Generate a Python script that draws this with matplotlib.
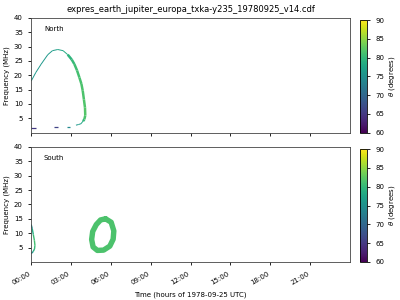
import matplotlib
matplotlib.use("Agg")
import matplotlib.pyplot as plt
import numpy as np
from matplotlib.collections import LineCollection
from matplotlib.colors import Normalize
from matplotlib.cm import ScalarMappable

title = "expres_earth_jupiter_europa_txka-y235_19780925_v14.cdf"

# North hemisphere tracks: time (hours), frequency (MHz), theta (deg)
north_arc_t = [0.0, 0.35, 0.75, 1.25, 1.6, 2.0, 2.4, 2.75, 3.05, 3.25, 3.45, 3.63, 3.78, 3.88, 3.97, 4.05, 4.07, 4.0, 3.9, 3.75, 3.55, 3.37]
north_arc_f = [18.0, 21.0, 23.9, 27.2, 28.6, 29.0, 28.6, 27.2, 25.5, 23.9, 21.7, 19.2, 17.0, 14.6, 11.5, 8.7, 6.0, 4.6, 4.0, 3.1, 2.8, 2.6]
north_arc_theta = [76, 76, 76, 76, 76.5, 77, 78, 79, 80, 80.5, 81, 81, 81.5, 81.5, 81.5, 82, 82, 81, 79, 77, 76, 76]

north_tail_t = [[2.68, 2.92], [1.68, 1.98], [0.0, 0.33]]
north_tail_f = [[2.1, 2.1], [1.85, 1.85], [1.5, 1.5]]
north_tail_theta = [74, 66, 65]

# South hemisphere tracks
south_arc_t = [0.0, 0.08, 0.16, 0.24, 0.28, 0.25, 0.15, 0.05, 0.0]
south_arc_f = [13.0, 11.5, 9.5, 7.5, 5.8, 4.5, 3.6, 3.1, 2.9]
south_arc_theta = [72, 77, 80, 81, 81, 80, 78, 74, 72]

south_ring_t = [5.6, 6.02, 6.22, 6.17, 5.92, 5.45, 4.98, 4.66, 4.55, 4.63, 4.9, 5.22, 5.6]
south_ring_f = [15.0, 13.8, 10.8, 7.9, 5.5, 4.1, 4.0, 5.2, 7.8, 10.6, 13.0, 14.6, 15.0]
south_ring_theta = 81.5

xtick_hours = [0, 3, 6, 9, 12, 15, 18, 21]
xtick_labels = ["00:00", "03:00", "06:00", "09:00", "12:00", "15:00", "18:00", "21:00"]
ytick_values = [5, 10, 15, 20, 25, 30, 35, 40]

norm = Normalize(vmin=60, vmax=90)
cmap = plt.get_cmap("viridis")

plt.rcParams["font.size"] = 5
plt.rcParams["axes.linewidth"] = 0.6
plt.rcParams["xtick.major.width"] = 0.6
plt.rcParams["ytick.major.width"] = 0.6
plt.rcParams["xtick.major.size"] = 2.5
plt.rcParams["ytick.major.size"] = 2.5

fig = plt.figure(figsize=(4, 3), dpi=100)
ax_n = fig.add_axes([0.078, 0.558, 0.797, 0.382])
ax_s = fig.add_axes([0.078, 0.127, 0.797, 0.383])
cax_n = fig.add_axes([0.9, 0.558, 0.017, 0.375])
cax_s = fig.add_axes([0.9, 0.127, 0.017, 0.376])


def track(ax, t, f, theta, lw):
    pts = np.column_stack([t, f])
    segs = np.stack([pts[:-1], pts[1:]], axis=1)
    theta = np.atleast_1d(theta).astype(float)
    if theta.size == 1:
        seg_theta = np.repeat(theta, len(segs))
    else:
        seg_theta = (theta[:-1] + theta[1:]) / 2
    if lw is None:
        # thicker where the emission band is wider (high theta part)
        lw = np.where(seg_theta >= 79.5, 1.8, 0.7)
    lc = LineCollection(segs, cmap=cmap, norm=norm, linewidths=lw,
                        capstyle="butt", joinstyle="round")
    lc.set_array(seg_theta)
    ax.add_collection(lc)


track(ax_n, north_arc_t, north_arc_f, north_arc_theta, None)
for t, f, th in zip(north_tail_t, north_tail_f, north_tail_theta):
    track(ax_n, t, f, th, 0.9)

track(ax_s, south_arc_t, south_arc_f, south_arc_theta, 1.0)
ax_s.plot(south_ring_t, south_ring_f, color=cmap(norm(south_ring_theta)),
          lw=3.9, solid_joinstyle="round", solid_capstyle="round")

for ax, name in [(ax_n, "North"), (ax_s, "South")]:
    ax.set_xlim(0, 24)
    ax.set_ylim(0, 40)
    ax.set_yticks(ytick_values)
    ax.set_xticks(xtick_hours)
    ax.set_ylabel("Frequency (MHz)", labelpad=3)
    ax.text(0.04, 0.9, name, transform=ax.transAxes, va="center", ha="left")
    for sp in ax.spines.values():
        sp.set_color("#444444")

ax_n.set_xticklabels([])
ax_s.set_xticklabels(xtick_labels, rotation=30, ha="right")
ax_s.set_xlabel("Time (hours of 1978-09-25 UTC)")
ax_n.set_title(title, fontsize=6, pad=4)

for cax in (cax_n, cax_s):
    cb = fig.colorbar(ScalarMappable(norm=norm, cmap=cmap), cax=cax)
    cb.set_ticks([60, 65, 70, 75, 80, 85, 90])
    cb.set_label(r"$\theta$ (degrees)", labelpad=2)
    cb.outline.set_linewidth(0.6)

fig.savefig("out.png", dpi=100)
